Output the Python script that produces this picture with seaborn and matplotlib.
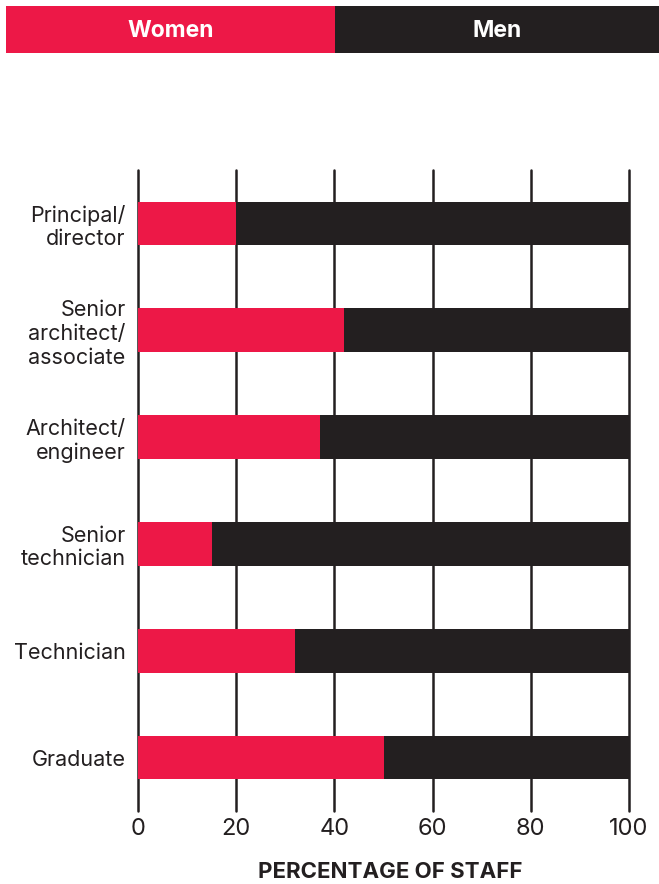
import matplotlib
matplotlib.use("Agg")
import matplotlib.pyplot as plt
import seaborn as sns
import pandas as pd
from matplotlib.patches import Rectangle

# Staff seniority levels and share of women (%) at each level
roles = [
    "Principal/\ndirector",
    "Senior\narchitect/\nassociate",
    "Architect/\nengineer",
    "Senior\ntechnician",
    "Technician",
    "Graduate",
]
women_pct = [20, 42, 37, 15, 32, 50]
men_pct = [100 - w for w in women_pct]
x_ticks = [0, 20, 40, 60, 80, 100]

RED = "#ED1847"
DARK = "#231F20"

sns.set_theme(style="white")
plt.rcParams["font.family"] = ["Inter", "DejaVu Sans"]

df = pd.DataFrame({
    "role": roles,
    "women": women_pct,
    "total": [w + m for w, m in zip(women_pct, men_pct)],
})

W, H = 659, 884
fig = plt.figure(figsize=(W / 100, H / 100), dpi=100)

# Main chart
ax = fig.add_axes([138 / W, 1 - 811 / H, 491 / W, 641 / H])
ax.set_axisbelow(True)
for t in x_ticks:
    ax.axvline(t, color=DARK, lw=1.8, zorder=0, clip_on=False)

sns.barplot(data=df, x="total", y="role", color=DARK, orient="h",
            width=0.41, saturation=1, linewidth=0, ax=ax, zorder=2)
sns.barplot(data=df, x="women", y="role", color=RED, orient="h",
            width=0.41, saturation=1, linewidth=0, ax=ax, zorder=3)

ax.set_xlim(0, 100)
ax.set_ylim(5.5, -0.5)
ax.set_xticks(x_ticks)
ax.set_xticklabels([str(t) for t in x_ticks], fontsize=17, color=DARK)
ax.tick_params(axis="x", length=0, pad=5)
ax.tick_params(axis="y", length=0, pad=9)
for lbl in ax.get_yticklabels():
    lbl.set_fontsize(15.5)
    lbl.set_color(DARK)
    lbl.set_linespacing(1.22)
    lbl.set_horizontalalignment("right")
    lbl.set_multialignment("right")
ax.set_ylabel("")
ax.set_xlabel("PERCENTAGE OF STAFF", fontsize=16, fontweight="bold",
              color=DARK, va="center")
ax.xaxis.set_label_coords(0.513, -0.0955)
for s in ax.spines.values():
    s.set_visible(False)
ax.grid(False)

# Colour key banner across the top
lax = fig.add_axes([6 / W, 1 - 53 / H, 653 / W, 47 / H])
lax.set_xlim(0, 1)
lax.set_ylim(0, 1)
lax.axis("off")
split = 329 / 653
lax.add_patch(Rectangle((0, 0), split, 1, color=RED, lw=0))
lax.add_patch(Rectangle((split, 0), 1 - split, 1, color=DARK, lw=0))
lax.text(split / 2, 0.47, "Women", color="white", fontsize=16.5,
         fontweight="bold", ha="center", va="center")
lax.text(split + (1 - split) / 2, 0.47, "Men", color="white", fontsize=16.5,
         fontweight="bold", ha="center", va="center")

fig.savefig("out.png", dpi=100, facecolor="white")
